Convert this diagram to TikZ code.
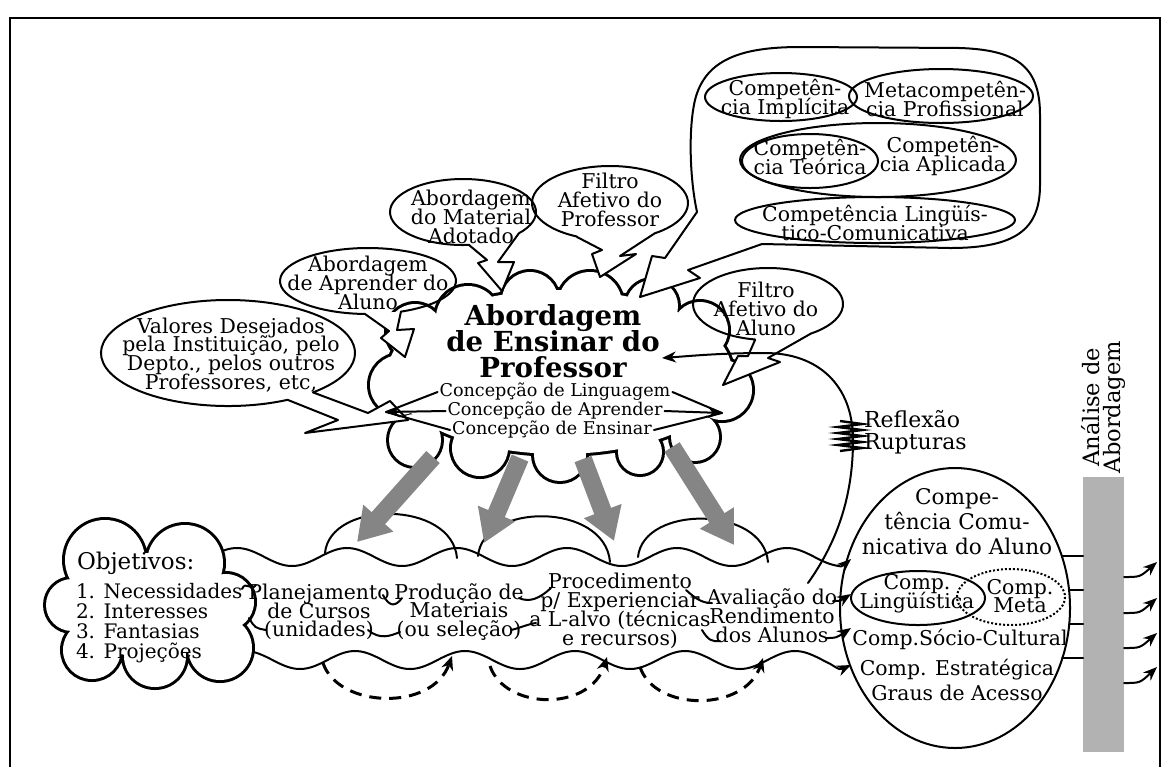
\documentclass[tikz,border=0pt]{standalone}
\usepackage{fontspec}
\setmainfont{DejaVu Serif}
\usetikzlibrary{arrows.meta}
\newcommand\tightls{\lineskiplimit-50pt\relax}
\newcommand\bubblecall[7]{%
  \fill[white] (#1) ++(#4:#2 and #3) #7 -- cycle;
  \draw[ln] (#1) ++(#5:#2 and #3) arc[start angle=#5, end angle=#6, x radius=#2, y radius=#3] #7 -- cycle;}
\newcommand\maincloud[1]{\path[#1] (560,372) ellipse[x radius=172, y radius=82]
  (468,318) circle[radius=32] (530,300) circle[radius=28] (590,304) circle[radius=32]
  (652,306) circle[radius=26] (700,330) circle[radius=28] (722,390) circle[radius=30]
  (695,437) circle[radius=24] (640,452) circle[radius=22] (560,455) circle[radius=26]
  (480,448) circle[radius=28] (415,440) circle[radius=26] (400,385) circle[radius=30]
  (415,332) circle[radius=28];}
\newcommand\objcloud[1]{\path[#1] (150,605) ellipse[x radius=88, y radius=52]
  (105,560) circle[radius=40] (185,563) circle[radius=38] (226,602) circle[radius=28]
  (220,648) circle[radius=32] (155,656) circle[radius=31] (92,650) circle[radius=29]
  (72,605) circle[radius=26];}
\begin{document}
\begin{tikzpicture}[x=0.5pt,y=-0.5pt,
  every node/.style={inner sep=0pt,outer sep=0pt},
  ln/.style={line width=1pt,line join=round,line cap=round},
  tip/.style={-{Stealth[length=7pt,width=5.5pt]}},
  txt/.style={align=center,font=\fontsize{10.2}{9.4}\selectfont\tightls},
  one/.style={font=\fontsize{10.2}{9.4}\selectfont,text height=7pt,text depth=2pt},
  lst/.style={align=left,font=\fontsize{10}{10}\selectfont\tightls},
  bigt/.style={align=center,font=\fontsize{13.8}{13}\selectfont\bfseries\tightls},
  ctxt/.style={font=\fontsize{8.8}{9}\selectfont,text height=6pt,text depth=1.8pt},
  objt/.style={font=\fontsize{11.5}{12}\selectfont},
  ccat/.style={align=center,font=\fontsize{10.8}{12.5}\selectfont\tightls},
  reft/.style={align=left,font=\fontsize{11}{11}\selectfont\tightls},
  analt/.style={align=center,font=\fontsize{11.3}{10.5}\selectfont\tightls},
  grayarrow/.style={line width=9pt,draw=black!48,-{Triangle[length=16pt,width=19pt]}},
  dsh/.style={line width=1.5pt,dash pattern=on 6pt off 4pt,-{Stealth[length=7pt,width=6pt]}}
]
\useasboundingbox (0,0) rectangle (1171,767);
\fill[white] (0,0) rectangle (1171,767);
% frame
\draw[line width=1.2pt] (10,767) -- (10,18) -- (1160,18) -- (1160,767);

% waves
\draw[ln,tip] plot[domain=215:832,samples=220] (\x,{557-9*cos(3.272727*(\x-237))}) .. controls (842,567) .. (851,559);
\draw[ln,tip] plot[domain=218:830,samples=220] (\x,{660-9*cos(3.272727*(\x-245))}) .. controls (840,670) .. (851,665);
% domes
\draw[ln] (325,553) .. controls (330,500) and (452,500) .. (457,558);
\draw[ln] (478,556) .. controls (483,502) and (605,502) .. (610,562);
\draw[ln] (638,557) .. controls (643,505) and (763,505) .. (768,562);
% dashed return arcs
\draw[dsh] (323,663) .. controls (338,708) and (432,712) .. (452,656);
\draw[dsh] (490,666) .. controls (505,710) and (590,712) .. (607,657);
\draw[dsh] (640,667) .. controls (655,712) and (745,712) .. (763,658);

% clouds
\objcloud{draw,line width=3pt}
\objcloud{fill=white}
\maincloud{draw,line width=3pt}
\maincloud{fill=white}

% middle row connectors
\draw[ln] (242,589) .. controls (246,580) and (251,592) .. (256,585);
\draw[ln] (383,595) .. controls (390,608) and (396,606) .. (402,598);
\draw[ln] (519,598) .. controls (530,603) and (540,598) .. (551,588);
\draw[ln] (686,590) .. controls (697,600) and (703,603) .. (712,603);
\draw[ln,tip] (833,601) .. controls (840,601) .. (851,594);
\draw[ln] (249,618) .. controls (255,628) .. (266,630);
\draw[ln] (368,630) .. controls (380,640) and (390,636) .. (400,632);
\draw[ln] (511,630) .. controls (520,628) and (528,624) .. (536,623);
\draw[ln] (702,630) .. controls (708,640) and (712,642) .. (720,641);
\draw[ln,tip] (826,638) .. controls (836,638) .. (851,628);

% callout bubbles
\bubblecall{228,353}{127}{53}{48}{62}{408}{-- (368,413) -- (390,401) -- (408,420) -- (305,433) -- (338,420) -- (288,400)}
\bubblecall{368,281}{88}{33}{68}{92}{428}{-- (397,330) -- (414,329) -- (405,357) -- (381,338) -- (389,331) -- (365,314)}
\bubblecall{463,212}{73}{33}{40}{85}{400}{-- (498,262) -- (514,262) -- (502,291) -- (478,263) -- (487,260) -- (469,245)}
\bubblecall{610,203}{78}{37}{55}{115}{415}{-- (620,256) -- (636,254) -- (600,277) -- (592,254) -- (602,250) -- (577,237)}
\bubblecall{768,304}{75}{36}{55}{100}{415}{-- (768,358) -- (780,362) -- (723,385) -- (738,356) -- (748,356) -- (755,340)}

% big competence bubble
\fill[white] (697,212) -- (665,258) -- (652,256) -- (640,297) -- (700,278) -- (688,270) -- (762,244) -- cycle;
\draw[ln] (762,244) -- (950,248) .. controls (1015,248) and (1040,230) .. (1040,185) -- (1040,115)
  .. controls (1040,65) and (1015,50) .. (960,48) -- (800,47) .. controls (740,47) and (705,60) .. (695,100)
  .. controls (688,130) and (690,180) .. (697,212) -- (665,258) -- (652,256) -- (640,297) -- (700,278) -- (688,270) -- cycle;
\draw[ln] (781,97) ellipse[x radius=76, y radius=24];
\draw[ln] (941,96) ellipse[x radius=92, y radius=27];
\draw[ln] (810,161) ellipse[x radius=68, y radius=27];
\draw[ln] (878,160) ellipse[x radius=138, y radius=37];
\draw[ln] (875,220) ellipse[x radius=140, y radius=23];

% gray arrows
\draw[grayarrow] (433,457) -- (357,542);
\draw[grayarrow] (520,458) -- (484,543);
\draw[grayarrow] (583,459) -- (614,541);
\draw[grayarrow] (672,447) -- (734,545);

% reflexion loop
\draw[ln,tip] (808,583) .. controls (835,545) and (853,500) .. (853,440) .. controls (853,385) and (818,353) .. (765,353) .. controls (720,353) and (690,356) .. (662,358);
\draw[line width=1.2pt] (840,421) -- (862,424) -- (838,427) -- (862,430) -- (838,433) -- (862,436) -- (838,439) -- (862,442) -- (838,445) -- (862,448) -- (840,451);

% right ellipse
\draw[ln] (955,608) ellipse[x radius=115, y radius=140];
\draw[ln] (918,598) ellipse[x radius=67, y radius=27];
\draw[line width=1pt,densely dotted] (1011,597) ellipse[x radius=54, y radius=28];
\fill[black!30] (1083,477) rectangle (1124,752);
\draw[ln] (1062,556) -- (1083,556);
\draw[ln] (1069,590) -- (1083,590);
\draw[ln] (1069,624) -- (1083,624);
\draw[ln] (1062,658) -- (1083,658);
\draw[ln,tip] (1124,577) .. controls (1140,577) .. (1157,562);
\draw[ln,tip] (1124,613) .. controls (1140,613) .. (1157,598);
\draw[ln,tip] (1124,648) .. controls (1140,648) .. (1157,633);
\draw[ln,tip] (1124,683) .. controls (1140,683) .. (1157,667);

% texts
\node[txt] (impl) at (785,99) {Competên-\\cia Implícita};
\node[txt] (meta) at (945,99) {Metacompetên-\\cia Profissional};
\node[txt] (teor) at (810,157) {Competên-\\cia Teórica};
\node[txt] (apl) at (943,156) {Competên-\\cia Aplicada};
\node[txt] (ling) at (875,223) {Competência Lingüís-\\tico-Comunicativa};
\node[txt] (mat) at (471,217) {Abordagem\\do Material\\Adotado};
\node[txt] (fp) at (610,200) {Filtro\\Afetivo do\\Professor};
\node[txt] (apr) at (368,283) {Abordagem\\de Aprender do\\Aluno};
\node[txt] (val) at (231,355) {Valores Desejados\\pela Instituição, pelo\\Depto., pelos outros\\Professores, etc,};
\node[txt] (fa) at (766,309) {Filtro\\Afetivo do\\Aluno};
\node[bigt] (abord) at (553,341) {Abordagem\\de Ensinar do\\Professor};
\node[ctxt] (c1) at (555,392) {Concepção de Linguagem};
\node[ctxt] (c2) at (555,411) {Concepção de Aprender};
\node[ctxt] (c3) at (552,430) {Concepção de Ensinar};
\coordinate (cl) at (386,412);
\coordinate (cr) at (722,413);
\draw[ln] ([xshift=-1pt]c1.west) -- (cl);
\draw[ln,tip] ([xshift=-1pt]c2.west) -- (cl);
\draw[ln] ([xshift=-1pt]c3.west) -- (cl);
\draw[ln] ([xshift=1pt]c1.east) -- (cr);
\draw[ln,tip] ([xshift=1pt]c2.east) -- (cr);
\draw[ln] ([xshift=1pt]c3.east) -- (cr);
\node[objt,anchor=west] (obj) at (77,563) {Objetivos:};
\node[lst,anchor=west] (objl) at (76,623) {1. Necessidades\\2. Interesses\\3. Fantasias\\4. Projeções};
\node[txt] (plan) at (319,612) {Planejamento\\de Cursos\\(unidades)};
\node[txt] (prod) at (459,612) {Produção de\\Materiais\\(ou seleção)};
\node[txt] (proc) at (620,611) {Procedimento\\p/ Experienciar\\a L-alvo (técnicas\\e recursos)};
\node[txt] (aval) at (772,616) {Avaliação do\\Rendimento\\dos Alunos};
\node[ccat] (cca) at (957,522) {Compe-\\tência Comu-\\nicativa do Aluno};
\node[txt] (cl2) at (917,594) {Comp.\\Lingüística};
\node[txt] (cm) at (1020,596) {Comp.\\Meta};
\node[one] (csc) at (960,640) {Comp.Sócio-Cultural};
\node[one] (ce) at (957,670) {Comp. Estratégica};
\node[one] (ga) at (957,695) {Graus de Acesso};
\node[reft,anchor=west] (refl) at (864,432) {Reflexão\\Rupturas};
\node[analt,rotate=90] (anal) at (1103,407) {Análise de\\Abordagem};
\end{tikzpicture}
\end{document}
